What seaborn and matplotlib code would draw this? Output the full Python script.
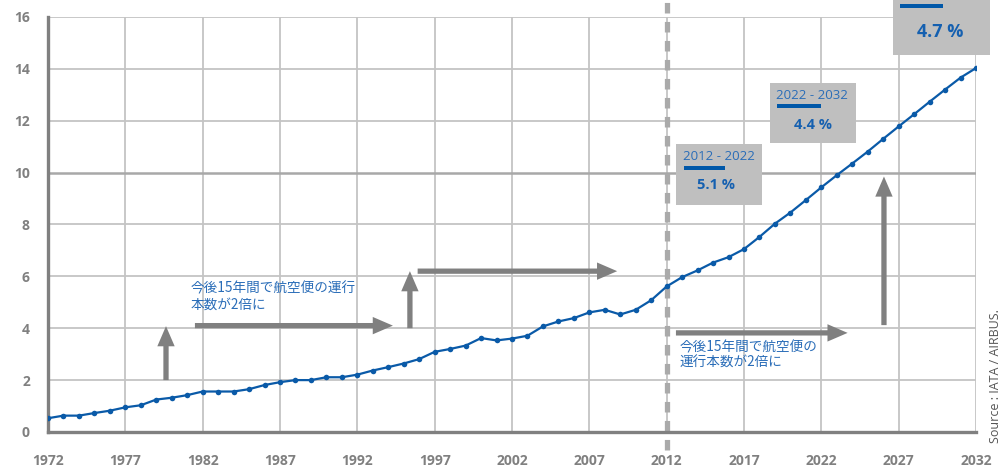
import matplotlib
matplotlib.use("Agg")
import matplotlib.pyplot as plt
import seaborn as sns
import pandas as pd
from matplotlib.patches import Rectangle

years = list(range(1972, 2033))
values = [0.53, 0.63, 0.63, 0.73, 0.82, 0.95, 1.03, 1.25, 1.32, 1.42,
          1.56, 1.56, 1.56, 1.65, 1.81, 1.92, 2.00, 2.00, 2.11, 2.11,
          2.21, 2.37, 2.50, 2.64, 2.81, 3.09, 3.20, 3.33, 3.62, 3.53,
          3.60, 3.71, 4.07, 4.26, 4.39, 4.61, 4.71, 4.53, 4.71, 5.08,
          5.61, 5.97, 6.23, 6.53, 6.74, 7.05, 7.52, 8.03, 8.46, 8.94,
          9.43, 9.90, 10.35, 10.81, 11.30, 11.78, 12.25, 12.73, 13.20, 13.66,
          14.03]
x_ticks = list(range(1972, 2033, 5))
y_ticks = list(range(0, 17, 2))

box_labels = ["2012 - 2022", "2022 - 2032", ""]
box_rates = ["5.1 %", "4.4 %", "4.7 %"]
jp_text_1 = "今後15年間で航空便の運行\n本数が2倍に"
jp_text_2 = "今後15年間で航空便の\n運行本数が2倍に"
source_text = "Source : IATA / AIRBUS."

BLUE = "#0a5aa8"
TXT_BLUE = "#2a6db8"
GREY = "#808080"
LGREY = "#c4c4c4"
BOX = "#bfbfbf"

sns.set_style("white")
plt.rcParams["font.family"] = ["Open Sans", "Noto Sans CJK JP", "DejaVu Sans"]

fig = plt.figure(figsize=(10.04, 4.70), dpi=100)
ax = fig.add_axes([0.0478, 0.0809, 0.9243, 0.883])

df = pd.DataFrame({"year": years, "value": values})

# grid
for xt in x_ticks[1:]:
    ax.axvline(xt, color=LGREY, lw=1.3, zorder=1)
for yt in y_ticks[1:]:
    ax.axhline(yt, color=("#a8a8a8" if yt == 10 else LGREY), lw=(1.8 if yt == 10 else 1.3), zorder=1)

# dashed 2012 line
ax.plot([2012, 2012], [-0.7, 16.7], color="#aaaaaa", lw=3.8, dashes=(2.0, 1.6),
        clip_on=False, zorder=2)

sns.lineplot(data=df, x="year", y="value", ax=ax, color=BLUE, lw=1.6,
             marker="o", markersize=4, markeredgewidth=0, zorder=5)

ax.set_xlim(1972, 2032)
ax.set_ylim(0, 16)
ax.set_xticks(x_ticks)
ax.set_yticks(y_ticks)
ax.set_xlabel("")
ax.set_ylabel("")
for s in ["top", "right"]:
    ax.spines[s].set_visible(False)
for s in ["left", "bottom"]:
    ax.spines[s].set_color(GREY)
    ax.spines[s].set_linewidth(2.4)
    ax.spines[s].set_zorder(3)
ax.tick_params(axis="x", length=9, width=1.2, color=LGREY, pad=7,
               labelsize=10, labelcolor=GREY)
ax.tick_params(axis="y", length=9, width=1.2, color=LGREY, pad=4,
               labelsize=10, labelcolor=GREY)
for lab in ax.get_xticklabels() + ax.get_yticklabels():
    lab.set_fontweight("bold")

# arrows
arrows = [
    ((1979.63, 2.0), (1979.63, 4.08)),
    ((1981.5, 4.1), (1994.3, 4.1)),
    ((1995.4, 4.0), (1995.4, 6.2)),
    ((1995.9, 6.2), (2008.8, 6.2)),
    ((2012.6, 3.82), (2023.7, 3.82)),
    ((2026.05, 4.12), (2026.05, 9.85)),
]
for start, end in arrows:
    ax.annotate("", xy=end, xytext=start,
                arrowprops=dict(arrowstyle="simple,head_length=1.45,head_width=1.25,tail_width=0.38",
                                mutation_scale=10, color=GREY, lw=0,
                                shrinkA=0, shrinkB=0),
                zorder=4)

# Japanese annotations
ax.text(1981.2, 5.8, jp_text_1, color=TXT_BLUE, fontsize=9.8, va="top", ha="left",
        family=["Noto Sans CJK JP", "DejaVu Sans"], linespacing=1.2, zorder=6)
ax.text(2012.85, 3.55, jp_text_2, color=TXT_BLUE, fontsize=9.8, va="top", ha="left",
        family=["Noto Sans CJK JP", "DejaVu Sans"], linespacing=1.2, zorder=6)

# growth boxes
boxes = [
    (2012.6, 2018.16, 8.75, 11.10, (2015.4, 10.62), (2013.12, 2015.77, 10.18), (2015.2, 9.52), 10.5),
    (2018.68, 2024.24, 11.14, 13.45, (2021.4, 12.97), (2019.13, 2021.98, 12.57), (2021.46, 11.83), 10.5),
    (2026.63, 2032.9, 14.53, 17.6, (2029.7, 17.0), (2027.08, 2029.86, 16.43), (2029.67, 15.42), 13),
]
for (x0, x1, y0, y1, lxy, bar, rxy, rsize), lab, rate in zip(boxes, box_labels, box_rates):
    ax.add_patch(Rectangle((x0, y0), x1 - x0, y1 - y0, facecolor=BOX, edgecolor="none",
                           clip_on=False, zorder=6))
    if lab:
        ax.text(lxy[0], lxy[1], lab, color=TXT_BLUE, fontsize=9.5, ha="center", va="center",
                zorder=7, clip_on=False)
    ax.add_patch(Rectangle((bar[0], bar[2] - 0.08), bar[1] - bar[0], 0.16, facecolor="#0057a8",
                           edgecolor="none", clip_on=False, zorder=7))
    ax.text(rxy[0], rxy[1], rate, color="#1560b0", fontsize=rsize, fontweight="bold",
            ha="center", va="center", zorder=7, clip_on=False)

fig.text(0.992, 0.2, source_text, rotation=90, color="#555555", fontsize=9,
         ha="center", va="center")

fig.savefig("out.png", dpi=100)
